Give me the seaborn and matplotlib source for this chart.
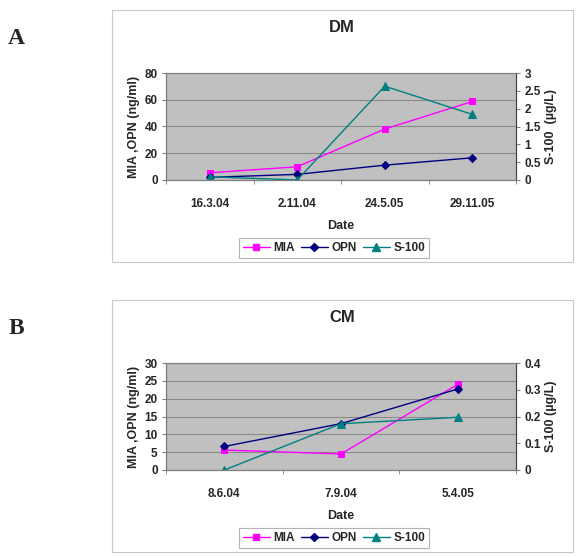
import matplotlib
matplotlib.use("Agg")
import matplotlib.pyplot as plt
import seaborn as sns
import pandas as pd
from matplotlib.patches import Rectangle
from matplotlib.lines import Line2D

# Panel A (DM)
dm_dates = ['16.3.04', '2.11.04', '24.5.05', '29.11.05']
dm_mia = [5.4, 9.9, 38.1, 58.7]
dm_opn = [2.0, 4.2, 11.1, 16.6]
dm_s100 = [0.09, 0.0, 2.63, 1.84]

# Panel B (CM)
cm_dates = ['8.6.04', '7.9.04', '5.4.05']
cm_mia = [5.6, 4.5, 24.0]
cm_opn = [6.6, 13.0, 22.7]
cm_s100 = [0.0, 0.173, 0.197]

MIA_C = '#FF00FF'
OPN_C = '#000080'
S100_C = '#008080'

sns.set_style("white")
plt.rcParams['font.family'] = ['Liberation Sans', 'DejaVu Sans']
plt.rcParams['font.weight'] = 'bold'

fig = plt.figure(figsize=(5.85, 5.58), dpi=100)
W, H = 585, 558


def fx(px):
    return px / W


def fy(py):
    return 1 - py / H


def panel(top_px, title, dates, mia, opn, s100, lmax, lstep, rmax, rstep, rfmt, rlabel, letter):
    # outer frame
    fig.patches.append(Rectangle((fx(112), fy(top_px + 252)), fx(573) - fx(112),
                                 fy(top_px) - fy(top_px + 252), transform=fig.transFigure,
                                 fill=False, edgecolor='#C8C8C8', lw=0.8))
    ax = fig.add_axes([fx(166), fy(top_px + 170), fx(516) - fx(166), fy(top_px + 63) - fy(top_px + 170)])
    ax.set_facecolor('#C0C0C0')
    df = pd.DataFrame({'pos': range(len(dates)), 'MIA': mia, 'OPN': opn, 'S100': s100})
    sns.lineplot(data=df, x='pos', y='MIA', ax=ax, color=MIA_C, marker='s', markersize=5,
                 markeredgecolor=MIA_C, lw=1)
    sns.lineplot(data=df, x='pos', y='OPN', ax=ax, color=OPN_C, marker='D', markersize=4.5,
                 markeredgecolor=OPN_C, lw=1)
    ax.set_xlim(-0.5, len(dates) - 0.5)
    ax.set_ylim(0, lmax)
    yt = [i * lstep for i in range(int(round(lmax / lstep)) + 1)]
    ax.set_yticks(yt)
    ax.set_yticklabels([str(int(v)) for v in yt], fontsize=8.5, fontweight='bold')
    ax.grid(axis='y', color='#8A8A8A', lw=0.8)
    ax.set_axisbelow(True)
    ax.set_xticks(range(len(dates)))
    ax.set_xticklabels(dates, fontsize=8.5, fontweight='bold')
    ax.set_xticks([i - 0.5 for i in range(len(dates) + 1)], minor=True)
    ax.tick_params(axis='x', which='major', length=0, pad=13)
    ax.tick_params(axis='x', which='minor', length=3, color='#808080', bottom=True)
    ax.tick_params(axis='y', length=3, left=True, color='#808080', pad=3)
    ax.set_xlabel('Date', fontsize=9, fontweight='bold', labelpad=7)
    ax.set_ylabel('MIA ,OPN (ng/ml)', fontsize=9, fontweight='bold', labelpad=3)
    for s in ax.spines.values():
        s.set_color('#808080')
        s.set_linewidth(0.8)
    ax.spines['left'].set_color('#404040')
    ax.spines['bottom'].set_color('#404040')

    ax2 = ax.twinx()
    sns.lineplot(data=df, x='pos', y='S100', ax=ax2, color=S100_C, marker='^', markersize=6,
                 markeredgecolor=S100_C, lw=1)
    ax2.set_ylim(0, rmax)
    rt = [i * rstep for i in range(int(round(rmax / rstep)) + 1)]
    ax2.set_yticks(rt)
    ax2.set_yticklabels([rfmt(v) for v in rt], fontsize=8.5, fontweight='bold')
    ax2.tick_params(axis='y', length=3, right=True, color='#808080', pad=3)
    ax2.set_ylabel(rlabel, fontsize=9, fontweight='bold', labelpad=3)
    for s in ax2.spines.values():
        s.set_color('#808080')
        s.set_linewidth(0.8)
    ax2.spines['right'].set_color('#404040')

    fig.text(fx(342), fy(top_px + 17), title, ha='center', va='center', fontsize=12, fontweight='bold')
    fig.text(fx(16), fy(top_px + 28), letter, ha='center', va='center', fontsize=17,
             fontweight='bold', family=['Liberation Serif', 'DejaVu Serif'])

    handles = [Line2D([], [], color=MIA_C, marker='s', markersize=5, lw=1),
               Line2D([], [], color=OPN_C, marker='D', markersize=4.5, lw=1),
               Line2D([], [], color=S100_C, marker='^', markersize=6, lw=1)]
    leg = fig.legend(handles, ['MIA', 'OPN', 'S-100'], loc='center', ncol=3,
                     bbox_to_anchor=(fx(334), fy(top_px + 238)), fontsize=8.5,
                     frameon=True, fancybox=False, edgecolor='#A0A0A0', handlelength=2.3,
                     handletextpad=0.3, columnspacing=0.5, borderpad=0.35)
    leg.get_frame().set_linewidth(0.8)
    for t in leg.get_texts():
        t.set_fontweight('bold')


panel(10, 'DM', dm_dates, dm_mia, dm_opn, dm_s100, 80, 20, 3, 0.5,
      lambda v: ('%g' % v), 'S-100  (\u00b5g/L)', 'A')
panel(300, 'CM', cm_dates, cm_mia, cm_opn, cm_s100, 30, 5, 0.4, 0.1,
      lambda v: ('%g' % round(v, 1)), 'S-100 (\u00b5g/L)', 'B')

fig.savefig('out.png', dpi=100)
